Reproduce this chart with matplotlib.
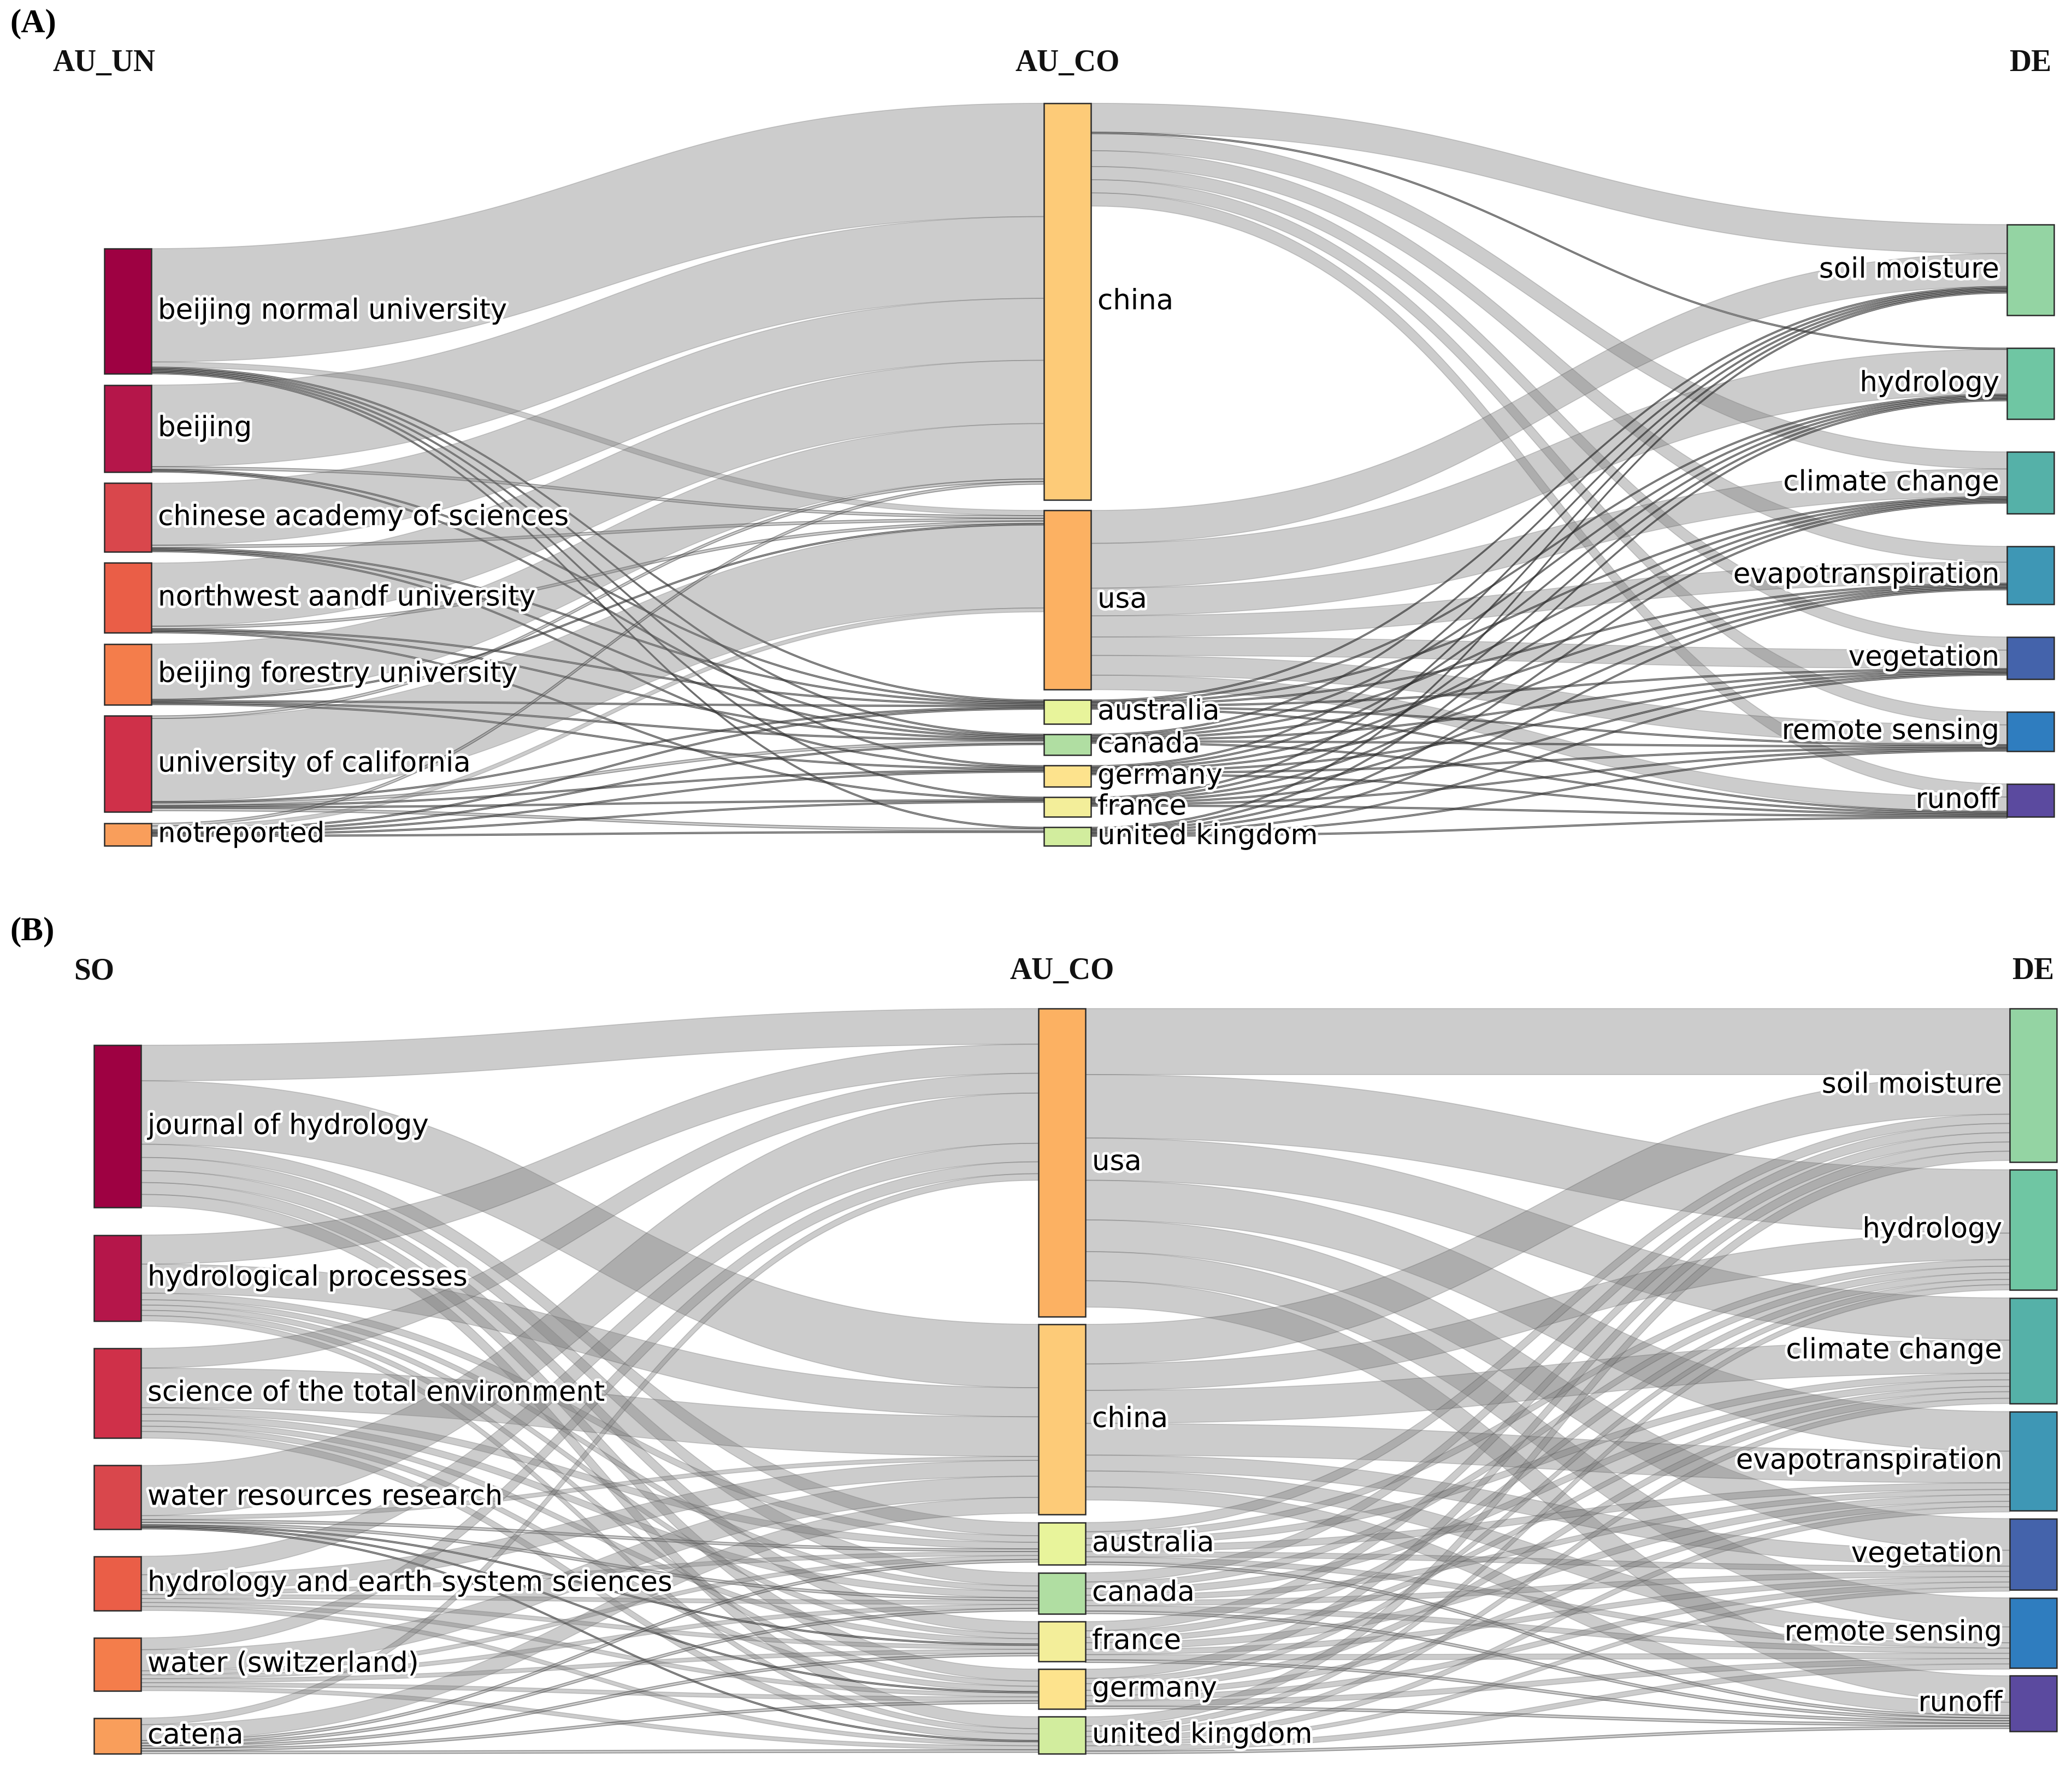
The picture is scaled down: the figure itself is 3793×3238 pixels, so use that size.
import numpy as np
import matplotlib.pyplot as plt
from matplotlib.patches import Polygon, Rectangle
import matplotlib.patheffects as pe

W, H = 3793, 3238

# ---------------- panel A : AU_UN -> AU_CO -> DE ----------------
a_left = ["beijing normal university", "beijing", "chinese academy of sciences",
          "northwest aandf university", "beijing forestry university",
          "university of california", "notreported"]
a_left_val = [95, 66, 52, 53, 46, 73, 17]
a_mid = ["china", "usa", "australia", "canada", "germany", "france", "united kingdom"]
a_mid_val = [301, 136, 18, 16, 16, 15, 14]
a_right = ["soil moisture", "hydrology", "climate change", "evapotranspiration",
           "vegetation", "remote sensing", "runoff"]
a_right_val = [69, 54, 47, 44, 32, 30, 25]

# rows = source, cols = target
a_left_mid = [
    [86, 4, 1, 1, 1, 1, 1],
    [62, 2, 1, 1, 0, 0, 0],
    [47, 2, 1, 1, 1, 0, 0],
    [48, 2, 1, 1, 0, 1, 0],
    [42, 1, 1, 1, 1, 0, 0],
    [2, 63, 1, 2, 1, 1, 2],
    [2, 3, 1, 1, 1, 1, 1],
]
a_mid_right = [
    [22, 1, 13, 12, 10, 10, 10],
    [25, 34, 21, 16, 14, 15, 11],
    [1, 1, 1, 1, 1, 1, 1],
    [1, 1, 1, 1, 1, 1, 1],
    [1, 1, 1, 1, 1, 1, 1],
    [1, 1, 1, 1, 1, 1, 1],
    [1, 1, 1, 1, 1, 1, 1],
]

# ---------------- panel B : SO -> AU_CO -> DE ----------------
b_left = ["journal of hydrology", "hydrological processes",
          "science of the total environment", "water resources research",
          "hydrology and earth system sciences", "water (switzerland)", "catena"]
b_left_val = [123, 65, 68, 48, 41, 40, 27]
b_mid = ["usa", "china", "australia", "canada", "france", "germany", "united kingdom"]
b_mid_val = [233, 144, 32, 31, 30, 30, 28]
b_right = a_right
b_right_val = [116, 91, 80, 75, 54, 53, 42]

b_left_mid = [
    [27, 48, 10, 10, 9, 9, 9],
    [22, 22, 5, 4, 4, 4, 4],
    [15, 30, 5, 5, 4, 4, 5],
    [38, 3, 2, 2, 1, 1, 1],
    [14, 12, 3, 3, 3, 3, 3],
    [9, 16, 3, 3, 3, 3, 3],
    [5, 12, 2, 2, 2, 2, 2],
]
b_mid_right = [
    [50, 48, 32, 30, 24, 22, 20],
    [30, 20, 25, 24, 12, 12, 10],
    [7, 5, 5, 5, 4, 4, 2],
    [7, 5, 5, 4, 4, 4, 2],
    [7, 5, 4, 5, 4, 4, 2],
    [7, 4, 5, 4, 4, 4, 2],
    [7, 4, 4, 4, 3, 4, 2],
]

# node colours
uni_colors = ["#9e0142", "#b5164a", "#d9474c", "#ea5e47", "#f47d4b", "#cf3049", "#f99e5b"]
so_colors = ["#9e0142", "#b5164a", "#cf3049", "#d9474c", "#ea5e47", "#f47d4b", "#f99e5b"]
country_colors = {"china": "#fdcb78", "usa": "#fcb162", "australia": "#e8f49b",
                  "canada": "#b0dea2", "germany": "#fde38d", "france": "#f3ee9a",
                  "united kingdom": "#d2ed9e"}
de_colors = ["#94d4a3", "#6fc6a3", "#55b1a8", "#3e97b5", "#4463ab", "#2f7dbf", "#5b4a9f"]

halo = [pe.withStroke(linewidth=7, foreground="white")]
LABEL_FS = 37


def layout(values, top, bottom, scale):
    hs = np.array(values, dtype=float) * scale
    gap = (bottom - top - hs.sum()) / (len(values) - 1)
    ys = top + np.concatenate([[0], np.cumsum(hs[:-1] + gap)])
    return ys, hs


def draw_links(ax, flows, xs0, xs1, ys0, ys1, scale):
    flows = np.array(flows, dtype=float)
    out_off = np.zeros(flows.shape[0])
    in_off = np.zeros(flows.shape[1])
    t = np.linspace(0, 1, 90)
    xm = (xs0 + xs1) / 2
    bx = (1 - t) ** 3 * xs0 + 3 * (1 - t) ** 2 * t * xm + 3 * (1 - t) * t ** 2 * xm + t ** 3 * xs1
    ease = 3 * t ** 2 - 2 * t ** 3
    for i in range(flows.shape[0]):
        for j in range(flows.shape[1]):
            v = flows[i, j]
            if v <= 0:
                continue
            w = v * scale
            a0 = ys0[i] + out_off[i]
            a1 = ys1[j] + in_off[j]
            out_off[i] += w
            in_off[j] += w
            top = a0 + (a1 - a0) * ease
            bot = top + w
            pts = np.vstack([np.column_stack([bx, top]), np.column_stack([bx[::-1], bot[::-1]])])
            # thin links get a darker outline, like the original rendering
            edge_a = 0.6 if v <= 1 else (0.4 if v <= 2 else 0.18)
            ax.add_patch(Polygon(pts, closed=True, facecolor=(0.5, 0.5, 0.5, 0.4),
                                 edgecolor=(0.1, 0.1, 0.1, edge_a), linewidth=1.2, zorder=1))


def draw_nodes(ax, names, colors, x0, width, ys, hs, side):
    for k, name in enumerate(names):
        ax.add_patch(Rectangle((x0, ys[k]), width, hs[k], facecolor=colors[k],
                               edgecolor="#2b2b2b", linewidth=1.8, zorder=3))
        yc = ys[k] + hs[k] / 2
        if side == "left":
            ax.text(x0 - 14, yc, name, ha="right", va="center", fontsize=LABEL_FS,
                    color="black", path_effects=halo, zorder=5)
        else:
            ax.text(x0 + width + 12, yc, name, ha="left", va="center",
                    fontsize=LABEL_FS, color="black", path_effects=halo, zorder=5)


def draw_panel(ax, cols, flows, xcols, spans, pad, headers, head_y, tag, tag_y):
    width = 86
    mid_top, mid_bot = spans[1]
    scale = (mid_bot - mid_top - (len(cols[1][1]) - 1) * pad) / sum(cols[1][1])
    ys, hs = [], []
    for (names, vals, cl), (top, bot) in zip(cols, spans):
        y, h = layout(vals, top, bot, scale)
        ys.append(y)
        hs.append(h)
    draw_links(ax, flows[0], xcols[0] + width, xcols[1], ys[0], ys[1], scale)
    draw_links(ax, flows[1], xcols[1] + width, xcols[2], ys[1], ys[2], scale)
    sides = ["right", "right", "left"]
    for c in range(3):
        draw_nodes(ax, cols[c][0], cols[c][2], xcols[c], width, ys[c], hs[c], sides[c])
    hx = [xcols[0], xcols[1] + width / 2, xcols[2] + width / 2]
    for c in range(3):
        ax.text(hx[c], head_y, headers[c], ha="center", va="center", fontsize=40,
                family="Liberation Serif", fontweight="bold", color="#111111", zorder=6)
    ax.text(18, tag_y, tag, ha="left", va="center", fontsize=44, family="Liberation Serif",
            fontweight="bold", color="black", zorder=6)


fig = plt.figure(figsize=(W / 100, H / 100), dpi=100)
ax = fig.add_axes([0, 0, 1, 1])
ax.set_xlim(0, W)
ax.set_ylim(H, 0)
ax.axis("off")

# ------ panel A ------
draw_panel(ax,
           [(a_left, a_left_val, uni_colors),
            (a_mid, a_mid_val, [country_colors[c] for c in a_mid]),
            (a_right, a_right_val, de_colors)],
           [a_left_mid, a_mid_right],
           [191, 1911, 3674],
           [(455, 1548), (189, 1548), (411, 1495)],
           19,
           ["AU_UN", "AU_CO", "DE"], 116, "(A)", 44)

# ------ panel B ------
draw_panel(ax,
           [(b_left, b_left_val, so_colors),
            (b_mid, b_mid_val, [country_colors[c] for c in b_mid]),
            (b_right, b_right_val, de_colors)],
           [b_left_mid, b_mid_right],
           [172, 1901, 3679],
           [(1913, 3210), (1846, 3210), (1846, 3169)],
           14.5,
           ["SO", "AU_CO", "DE"], 1778, "(B)", 1706)

fig.savefig("out.png", dpi=100, facecolor="white")
